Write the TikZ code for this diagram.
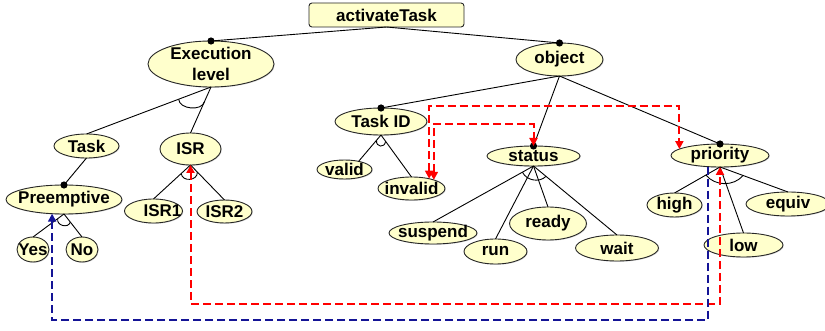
\documentclass[tikz,border=0pt]{standalone}
\usepackage{fontspec}
\setmainfont{Liberation Sans}
\usepackage{tikz}
\usetikzlibrary{arrows.meta,calc,shapes.geometric,shadows}
\definecolor{featfill}{RGB}{255,255,204}
\definecolor{linkred}{RGB}{255,0,0}
\definecolor{linkblue}{RGB}{20,20,150}

\begin{document}
\begin{tikzpicture}[
  x=1pt, y=-1pt,
  font=\fontsize{17}{21}\selectfont\bfseries,
  every label/.style={align=center, inner sep=0pt},
  feat/.style 2 args={ellipse, draw=black!85, line width=0.9pt, fill=featfill, minimum width=#1pt, minimum height=#2pt, inner sep=0pt, outer sep=0pt, drop shadow={shadow xshift=0.8pt, shadow yshift=-0.8pt, opacity=0.3}},
  root/.style={draw=black!85, line width=0.9pt, rounded corners=3pt, fill=featfill, minimum width=155pt, minimum height=24pt, inner sep=0pt, outer sep=0pt},
  branch/.style={draw=black, line width=0.9pt},
  reqlink/.style={draw=linkred, line width=2pt, dash pattern=on 8pt off 4pt, >={Triangle[length=8pt,width=8pt]}, <->},
  exclink/.style={draw=linkblue, line width=2pt, dash pattern=on 8pt off 4pt, >={Triangle[length=8pt,width=8pt]}, ->}
]
\useasboundingbox (0,0) rectangle (825,331);

\node[root] (act) at (386.5,15) {activateTask};
\node[feat={126}{46}, label={center:{Execution\\level}}] (exe) at (211,64) {};
\node[feat={87}{33}, label=center:object] (obj) at (559.5,59.5) {};
\node[feat={92}{27}, label=center:Task ID] (tid) at (381,121.5) {};
\node[feat={93}{20}, label=center:status] (st) at (533.5,156) {};
\node[feat={98}{23}, label=center:priority] (prio) at (720,155.5) {};
\node[feat={65}{24}, label=center:Task] (task) at (86.5,146) {};
\node[feat={61}{32}, label=center:ISR] (isr) at (190.5,149) {};
\node[feat={116}{29}, label=center:Preemptive] (pre) at (64,199.5) {};
\node[feat={32}{25}, label=center:Yes] (yes) at (33,249.5) {};
\node[feat={32}{25}, label=center:No] (no) at (82,249.5) {};
\node[feat={58}{24}, label={[xshift=9pt]center:ISR1}] (isrone) at (153.5,211) {};
\node[feat={55}{23}, label=center:ISR2] (isrtwo) at (224.5,211.5) {};
\node[feat={55}{19}, label=center:valid] (valid) at (344.5,169.5) {};
\node[feat={67}{23}, label=center:invalid] (inv) at (411.5,188.5) {};
\node[feat={88}{22}, label=center:suspend] (susp) at (433,233) {};
\node[feat={63}{25}, label=center:run] (run) at (495.5,251.5) {};
\node[feat={77}{33}, label=center:ready] (ready) at (548,223.5) {};
\node[feat={83}{26}, label=center:wait] (wait) at (617,248) {};
\node[feat={55}{24}, label=center:high] (high) at (674.5,205) {};
\node[feat={79}{24}, label=center:low] (low) at (743.5,245) {};
\node[feat={84}{24}, label=center:equiv] (equiv) at (788,204) {};

\draw[branch] (act.south) -- (exe.north);
\draw[branch] (act.south) -- (obj.north);
\draw[branch] (exe.south) -- (task.north);
\draw[branch] (exe.south) -- (isr.north);
\draw[branch] (task.south) -- (pre.north);
\draw[branch] (pre.south) -- (yes.north);
\draw[branch] (pre.south) -- (no.north);
\draw[branch] (isr.south) -- (isrone.north);
\draw[branch] (isr.south) -- (isrtwo.north);
\draw[branch] (obj.south) -- (tid.north);
\draw[branch] (obj.south) -- (st.north);
\draw[branch] (obj.south) -- (prio.north);
\draw[branch] (tid.south) -- (valid.30);
\draw[branch] (tid.south) -- (inv.north);
\draw[branch] (st.south) -- (susp.north);
\draw[branch] (st.south) -- (run.north);
\draw[branch] (st.south) -- (ready.north);
\draw[branch] (st.south) -- (wait.north);
\draw[branch] (prio.south) -- (high.north);
\draw[branch] (prio.south) -- (low.north);
\draw[branch] (prio.south) -- (equiv.north);

\draw[branch] ($(exe.south)!0.26!(task.north)$) to[bend right=80] ($(exe.south)!0.32!(isr.north)$);
\draw[branch] ($(isr.south)!0.25!(isrone.north)$) to[bend right=90, looseness=1.4] ($(isr.south)!0.2!(isrtwo.north)$);
\draw[branch] ($(pre.south)!0.2!(yes.north)$) to[bend right=90, looseness=1.4] ($(pre.south)!0.35!(no.north)$);
\draw[branch] ($(tid.south)!0.2!(valid.30)$) to[bend right=90, looseness=2] ($(tid.south)!0.15!(inv.north)$);
\draw[branch] ($(st.south)!0.11!(susp.north)$) to[bend right=55] ($(st.south)!0.15!(wait.north)$);
\draw[branch] ($(prio.south)!0.31!(high.north)$) to[bend right=50] ($(prio.south)!0.34!(equiv.north)$);

\foreach \n in {exe,obj,tid,st,prio,pre}
  \fill (\n.north) circle (3.6pt);

\draw[reqlink] (inv.29) -- ++(0,-73) -| (prio.171);
\draw[reqlink] (inv.21) -- ++(0,-56) -| (st.north);
\draw[reqlink] (isr.south) -- ++(0,139) -| (prio.south);
\draw[exclink] (prio.223) -- ++(0,153) -| (pre.230);
\end{tikzpicture}
\end{document}
